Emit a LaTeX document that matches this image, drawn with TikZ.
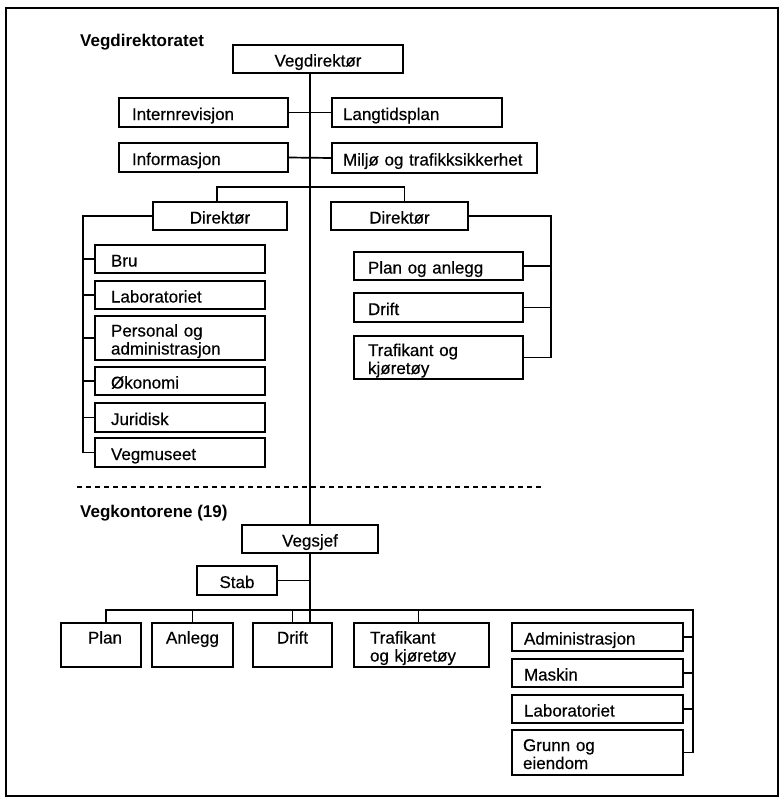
\documentclass[tikz,border=0pt]{standalone}
\usepackage{fontspec}
\setmainfont{Liberation Sans}[UprightFeatures={FakeBold=0.4}]
\newcommand{\boxfont}{\fontsize{17}{18}\selectfont}
\tikzset{
  unit/.style={draw, line width=1.7pt, outer sep=0pt, anchor=north west,
    inner xsep=13pt, inner ysep=0pt, font=\boxfont, align=left,
    text height=16pt, text depth=1pt},
  twoline/.style={text depth=19pt},
  mid/.style={align=center},
  conn/.style={line width=1.7pt},
  head/.style={anchor=base west, inner sep=0pt, font=\boxfont\bfseries}
}
\begin{document}
\begin{tikzpicture}[x=1pt,y=-1pt]
\useasboundingbox (0,0) rectangle (781,800);
\draw[line width=2.6pt] (6,8) rectangle (778,796);

\node[head] (hdir) at (80,47) {Vegdirektoratet};
\node[unit,mid,text width=144pt,minimum height=28pt] (vegdir) at (233,45) {Vegdirektør};
\node[unit,text width=143pt,minimum height=29pt] (intrev) at (119,98) {Internrevisjon};
\node[unit,text width=148pt,minimum height=29pt,inner xsep=11pt] (langtid) at (332,98) {Langtidsplan};
\node[unit,text width=143pt,minimum height=29pt] (info) at (119,143) {Informasjon};
\node[unit,text width=183pt,minimum height=30pt,inner xsep=11pt] (miljo) at (332,143) {Miljø og trafikksikkerhet};
\node[unit,mid,text width=108pt,minimum height=28pt] (dirL) at (153,202) {Direktør};
\node[unit,mid,text width=111pt,minimum height=28pt] (dirR) at (331,202) {Direktør};

\node[unit,text width=138pt,minimum height=28pt,inner xsep=16pt] (bru) at (95,245) {Bru};
\node[unit,text width=138pt,minimum height=28pt,inner xsep=16pt] (lab) at (95,281) {Laboratoriet};
\node[unit,twoline,text width=138pt,minimum height=44pt,inner xsep=16pt] (pers) at (95,316) {Personal og\\administrasjon};
\node[unit,text width=138pt,minimum height=28pt,inner xsep=16pt] (okon) at (95,367) {Økonomi};
\node[unit,text width=138pt,minimum height=29pt,inner xsep=16pt] (jur) at (95,403) {Juridisk};
\node[unit,text width=138pt,minimum height=29pt,inner xsep=16pt] (vegmus) at (95,438) {Vegmuseet};

\node[unit,text width=141pt,minimum height=28pt,inner xsep=14pt] (plananl) at (354,252) {Plan og anlegg};
\node[unit,text width=141pt,minimum height=29pt,inner xsep=14pt] (driftA) at (354,293) {Drift};
\node[unit,twoline,text width=141pt,minimum height=43pt,inner xsep=14pt] (trafA) at (354,336) {Trafikant og\\kjøretøy};

\coordinate (cutL) at (77,487);
\coordinate (cutR) at (544,487);
\draw[conn,dash pattern=on 5pt off 4pt] (cutL) -- (cutR);

\node[head] (hkont) at (80,517) {Vegkontorene (19)};
\node[unit,mid,text width=110pt,minimum height=28pt] (vegsjef) at (242,525) {Vegsjef};
\node[unit,mid,text width=54pt,minimum height=29pt] (stab) at (197,566) {Stab};

\node[unit,mid,twoline,text width=54pt,minimum height=44pt] (plan) at (61,623) {\hspace*{8pt}Plan};
\node[unit,mid,twoline,text width=55pt,minimum height=44pt] (anlegg) at (152,623) {Anlegg};
\node[unit,mid,twoline,text width=53pt,minimum height=44pt] (drift) at (253,623) {Drift};
\node[unit,twoline,text width=103pt,minimum height=44pt,inner xsep=16pt] (traf) at (354,623) {Trafikant\\og kjøretøy};
\node[unit,text width=147pt,minimum height=28pt,inner xsep=12pt] (adm) at (512,623) {Administrasjon};
\node[unit,text width=147pt,minimum height=28pt,inner xsep=12pt] (maskin) at (512,659) {Maskin};
\node[unit,text width=147pt,minimum height=28pt,inner xsep=12pt] (labB) at (512,695) {Laboratoriet};
\node[unit,twoline,text width=149pt,minimum height=45pt,inner xsep=11pt] (grunn) at (512,730) {Grunn og\\eiendom};

\draw[conn] (vegdir.south -| vegsjef.north) -- (vegsjef.north);
\draw[conn] (intrev.east) -- (langtid.west);
\draw[conn] (info.east) -- (miljo.west);
\draw[conn] ([xshift=-3pt]dirL.north) -- ++(0,-15) -| ([xshift=5pt]dirR.north);
\draw[conn] (dirL.west) -- ++(-70,0) |- (vegmus.west);
\foreach \n in {bru,lab,pers,okon,jur}
  \draw[conn] (\n.west) -- ++(-12,0);
\draw[conn] (dirR.east) -- ++(83,0) |- (trafA.east);
\foreach \n in {plananl,driftA}
  \draw[conn] (\n.east) -- ++(28,0);

\draw[conn] (vegsjef.south) -- (vegsjef.south |- drift.north);
\draw[conn] (stab.east) -- (stab.east -| vegsjef.south);
\coordinate (busR) at (693,610);
\draw[conn] ([xshift=5pt]plan.north) |- (busR) |- (grunn.east);
\foreach \n in {anlegg,drift}
  \draw[conn] (\n.north) -- ++(0,-13);
\draw[conn] ([xshift=-3pt]traf.north) -- ++(0,-13);
\foreach \n in {adm,maskin,labB}
  \draw[conn] (\n.east) -- ++(10,0);
\end{tikzpicture}
\end{document}
